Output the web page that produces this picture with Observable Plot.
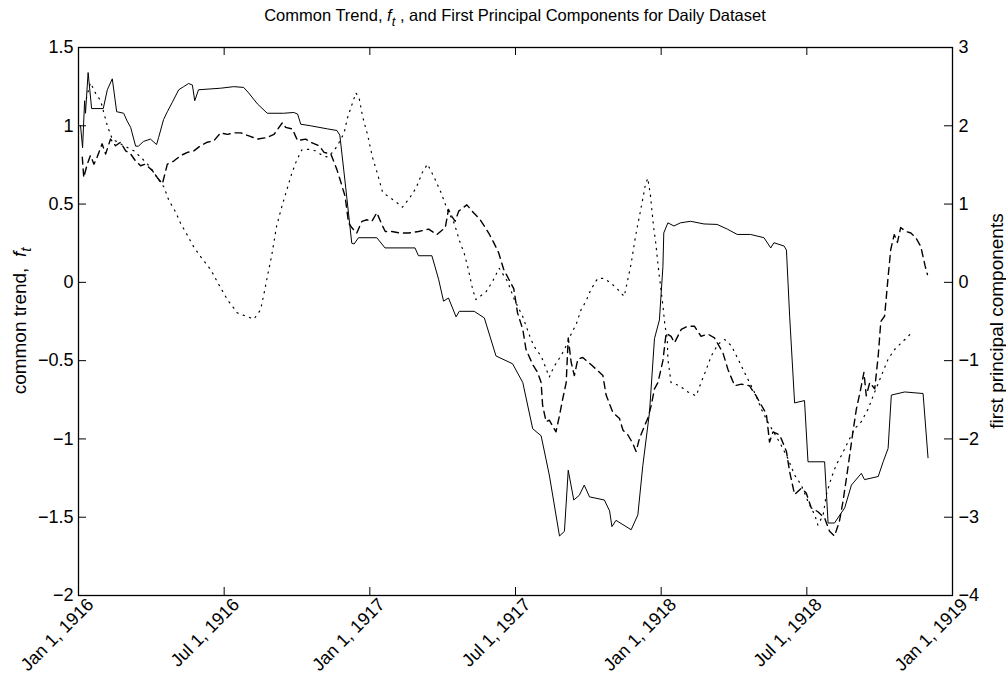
<!DOCTYPE html>
<html><head><meta charset="utf-8">
<script src="https://cdn.jsdelivr.net/npm/d3@7"></script>
<script src="https://cdn.jsdelivr.net/npm/@observablehq/plot@0.6"></script>
<style>body{margin:0;background:#fff} svg{display:block}</style>
</head><body><div id="chart"></div>
<script>
const leftDomain = [-2, 1.5];
const rightDomain = [-4, 3];
const xTicks = [1916, 1916.5, 1917, 1917.5, 1918, 1918.5, 1919];
const xTickLabels = ["Jan 1, 1916","Jul 1, 1916","Jan 1, 1917","Jul 1, 1917","Jan 1, 1918","Jul 1, 1918","Jan 1, 1919"];
const leftTicks = [-2, -1.5, -1, -0.5, 0, 0.5, 1, 1.5];
const leftTickLabels = ["\u22122","\u22121.5","\u22121","\u22120.5","0","0.5","1","1.5"];
const rightTicks = [-4, -3, -2, -1, 0, 1, 2, 3];
const rightTickLabels = ["\u22124","\u22123","\u22122","\u22121","0","1","2","3"];

// common trend f_t (left axis), solid
const solidT = [1916.007,1916.014,1916.021,1916.024,1916.033,1916.045,1916.085,1916.099,1916.116,1916.131,
1916.155,1916.167,1916.179,1916.196,1916.206,1916.223,1916.247,1916.268,1916.275,1916.292,
1916.305,1916.322,1916.344,1916.361,1916.378,1916.391,1916.399,1916.412,1916.488,1916.533,
1916.567,1916.584,1916.614,1916.648,1916.704,1916.739,1916.752,1916.763,1916.797,1916.855,
1916.887,1916.897,1916.914,1916.938,1916.946,1916.961,1917.024,1917.052,1917.155,1917.167,
1917.213,1917.236,1917.253,1917.270,1917.296,1917.307,1917.358,1917.393,1917.433,1917.490,
1917.525,1917.559,1917.588,1917.616,1917.651,1917.668,1917.681,1917.700,1917.719,1917.736,
1917.754,1917.805,1917.823,1917.831,1917.845,1917.897,1917.920,1917.937,1917.960,1917.977,
1917.994,1918.006,1918.009,1918.023,1918.044,1918.066,1918.101,1918.147,1918.192,1918.227,
1918.261,1918.307,1918.353,1918.376,1918.387,1918.422,1918.430,1918.441,1918.458,1918.492,
1918.504,1918.561,1918.573,1918.595,1918.630,1918.653,1918.687,1918.698,1918.745,1918.762,
1918.779,1918.790,1918.836,1918.899,1918.916];
const solidV = [1.0,0.86,1.16,1.08,1.34,1.11,1.11,1.23,1.30,1.09,
1.08,1.03,0.99,0.87,0.87,0.90,0.915,0.88,0.925,1.04,
1.09,1.15,1.23,1.25,1.27,1.26,1.16,1.23,1.24,1.25,
1.245,1.21,1.14,1.08,1.08,1.085,1.075,1.01,1.0,0.98,
0.97,0.94,0.66,0.25,0.245,0.285,0.285,0.22,0.22,0.17,
0.17,0.02,-0.12,-0.10,-0.22,-0.185,-0.185,-0.227,-0.47,-0.52,
-0.64,-0.935,-0.98,-1.23,-1.62,-1.59,-1.20,-1.39,-1.36,-1.295,
-1.37,-1.39,-1.46,-1.56,-1.52,-1.58,-1.485,-1.17,-0.83,-0.36,
-0.24,0.10,0.316,0.38,0.36,0.38,0.39,0.373,0.37,0.34,
0.306,0.306,0.285,0.22,0.253,0.232,0.206,-0.216,-0.77,-0.755,
-1.146,-1.146,-1.537,-1.537,-1.44,-1.295,-1.22,-1.26,-1.24,-1.146,
-1.06,-0.72,-0.70,-0.71,-1.12];

// first principal component A (right axis), dashed
const dashedT = [1916.013,1916.018,1916.030,1916.041,1916.053,1916.064,1916.081,1916.093,1916.110,1916.127,
1916.144,1916.162,1916.179,1916.196,1916.213,1916.230,1916.253,1916.270,1916.288,1916.305,
1916.327,1916.351,1916.374,1916.396,1916.419,1916.442,1916.465,1916.488,1916.511,1916.534,
1916.557,1916.585,1916.614,1916.648,1916.671,1916.700,1916.711,1916.734,1916.752,1916.780,
1916.797,1916.826,1916.843,1916.866,1916.887,1916.898,1916.915,1916.927,1916.938,1916.955,
1916.973,1916.990,1917.007,1917.024,1917.041,1917.053,1917.076,1917.104,1917.133,1917.167,
1917.202,1917.230,1917.259,1917.270,1917.282,1917.293,1917.305,1917.333,1917.356,1917.379,
1917.408,1917.425,1917.442,1917.459,1917.477,1917.494,1917.507,1917.525,1917.536,1917.559,
1917.576,1917.588,1917.593,1917.605,1917.616,1917.639,1917.651,1917.662,1917.674,1917.681,
1917.691,1917.702,1917.714,1917.731,1917.759,1917.777,1917.800,1917.811,1917.834,1917.857,
1917.869,1917.886,1917.903,1917.914,1917.925,1917.943,1917.954,1917.966,1917.977,1917.989,
1918.006,1918.017,1918.034,1918.046,1918.069,1918.092,1918.114,1918.137,1918.160,1918.183,
1918.212,1918.229,1918.252,1918.275,1918.303,1918.326,1918.344,1918.361,1918.372,1918.384,
1918.407,1918.430,1918.441,1918.458,1918.481,1918.498,1918.515,1918.538,1918.561,1918.578,
1918.595,1918.612,1918.624,1918.636,1918.647,1918.659,1918.670,1918.685,1918.696,1918.704,
1918.716,1918.733,1918.745,1918.754,1918.767,1918.779,1918.788,1918.800,1918.811,1918.822,
1918.840,1918.857,1918.874,1918.891,1918.906,1918.914];
const dashedV = [1.6,1.34,1.51,1.62,1.51,1.6,1.77,1.64,1.83,1.745,
1.79,1.68,1.64,1.55,1.49,1.51,1.43,1.34,1.26,1.51,
1.55,1.62,1.66,1.68,1.745,1.79,1.81,1.91,1.89,1.91,
1.91,1.87,1.83,1.85,1.89,2.04,1.98,1.96,1.81,1.83,
1.79,1.745,1.66,1.64,1.44,1.31,1.10,0.76,0.70,0.63,
0.78,0.80,0.78,0.89,0.74,0.65,0.65,0.63,0.63,0.65,
0.68,0.61,0.70,0.93,0.84,0.78,0.91,0.99,0.89,0.80,
0.63,0.51,0.38,0.17,0.04,-0.08,-0.39,-0.60,-0.855,-1.05,
-1.15,-1.28,-1.57,-1.78,-1.76,-1.91,-1.70,-1.49,-1.28,-0.71,
-1.02,-1.19,-0.98,-0.96,-1.05,-1.11,-1.19,-1.44,-1.66,-1.74,
-1.89,-1.95,-2.06,-2.16,-2.0,-1.83,-1.74,-1.57,-1.36,-1.28,
-1.0,-0.65,-0.69,-0.77,-0.60,-0.56,-0.56,-0.69,-0.66,-0.71,
-0.90,-1.11,-1.32,-1.30,-1.32,-1.45,-1.57,-1.68,-2.04,-1.91,
-1.95,-2.16,-2.42,-2.71,-2.63,-2.69,-2.88,-2.93,-3.01,-3.18,
-3.24,-3.05,-2.80,-2.50,-2.21,-1.89,-1.62,-1.36,-1.15,-1.45,
-1.28,-1.36,-0.94,-0.5,-0.43,0.07,0.42,0.61,0.51,0.70,
0.65,0.63,0.57,0.46,0.21,0.10];

// first principal component B (right axis), dotted
const dottedT = [1916.027,1916.041,1916.058,1916.076,1916.099,1916.116,1916.156,1916.190,1916.219,1916.247,
1916.270,1916.293,1916.310,1916.333,1916.351,1916.374,1916.396,1916.419,1916.454,1916.482,
1916.511,1916.545,1916.574,1916.602,1916.625,1916.637,1916.648,1916.663,1916.680,1916.698,
1916.715,1916.732,1916.749,1916.766,1916.791,1916.814,1916.837,1916.855,1916.877,1916.895,
1916.912,1916.923,1916.935,1916.952,1916.963,1916.975,1916.992,1917.009,1917.026,1917.044,
1917.066,1917.089,1917.112,1917.135,1917.158,1917.181,1917.198,1917.221,1917.244,1917.267,
1917.290,1917.307,1917.324,1917.336,1917.353,1917.364,1917.399,1917.421,1917.444,1917.473,
1917.496,1917.524,1917.553,1917.570,1917.588,1917.616,1917.633,1917.656,1917.674,1917.691,
1917.708,1917.725,1917.742,1917.759,1917.782,1917.804,1917.828,1917.851,1917.873,1917.883,
1917.897,1917.912,1917.923,1917.935,1917.946,1917.954,1917.963,1917.969,1917.975,1917.980,
1917.986,1917.992,1918.000,1918.006,1918.013,1918.021,1918.023,1918.034,1918.063,1918.092,
1918.120,1918.137,1918.155,1918.172,1918.195,1918.218,1918.241,1918.264,1918.286,1918.309,
1918.326,1918.344,1918.367,1918.389,1918.412,1918.435,1918.458,1918.481,1918.504,1918.527,
1918.538,1918.556,1918.567,1918.584,1918.601,1918.619,1918.641,1918.664,1918.687,1918.710,
1918.733,1918.756,1918.779,1918.802,1918.825,1918.848,1918.865];
const dottedV = [2.35,2.55,2.42,2.32,2.0,1.83,1.745,1.68,1.58,1.47,
1.34,1.22,1.05,0.90,0.75,0.60,0.45,0.33,0.16,-0.03,
-0.22,-0.39,-0.43,-0.47,-0.35,-0.14,0.07,0.34,0.72,0.97,
1.18,1.39,1.56,1.69,1.70,1.68,1.62,1.60,1.68,1.79,
1.91,2.10,2.23,2.42,2.36,2.12,1.89,1.60,1.39,1.15,
1.09,1.03,0.96,1.07,1.20,1.41,1.51,1.34,1.15,0.92,
0.75,0.54,0.37,0.20,-0.09,-0.22,-0.12,0.01,0.18,0.01,
-0.22,-0.43,-0.73,-0.855,-0.94,-1.21,-1.07,-0.94,-0.81,-0.66,
-0.54,-0.35,-0.24,-0.09,0.05,0.05,-0.01,-0.09,-0.18,-0.01,
0.24,0.59,0.80,1.03,1.25,1.33,1.12,0.89,0.68,0.55,
0.34,0.13,-0.11,-0.30,-0.55,-0.72,-0.98,-1.28,-1.32,-1.40,
-1.45,-1.28,-1.11,-0.94,-0.79,-0.73,-0.81,-0.98,-1.15,-1.32,
-1.45,-1.62,-1.79,-1.93,-2.08,-2.25,-2.46,-2.59,-2.80,-2.97,
-3.10,-2.97,-2.71,-2.50,-2.33,-2.21,-2.04,-1.87,-1.78,-1.62,
-1.40,-1.19,-0.98,-0.855,-0.77,-0.69,-0.62];

// map right-axis values onto the left-axis scale
const toLeft = d3.scaleLinear().domain(rightDomain).range(leftDomain);
const rows = (T, V, right) => T.map((t, i) => ({t, v: right ? toLeft(V[i]) : V[i]}));
const rightTicksL = rightTicks.map(toLeft);

const W = 1006, H = 683, mL = 78, mR = 54, mT = 47, mB = 88;
const fw = W - mL - mR, fh = H - mT - mB, tl = 8;
const FONT = "'Liberation Sans', Arial, Helvetica, sans-serif";

const svg = Plot.plot({
  width: W, height: H,
  marginLeft: mL, marginRight: mR, marginTop: mT, marginBottom: mB,
  x: {domain: [1916, 1919]},
  y: {domain: leftDomain},
  style: {fontFamily: FONT, fontSize: "18px", background: "white", color: "black"},
  marks: [
    Plot.line(rows(dottedT, dottedV, true), {x: "t", y: "v", stroke: "black", strokeWidth: 1.2, strokeDasharray: "1.2,5.5"}),
    Plot.line(rows(dashedT, dashedV, true), {x: "t", y: "v", stroke: "black", strokeWidth: 1.4, strokeDasharray: "7,5"}),
    Plot.line(rows(solidT, solidV, false), {x: "t", y: "v", stroke: "black", strokeWidth: 1}),
    Plot.tickX(xTicks, {x: d => d, insetTop: fh - tl, stroke: "black"}),
    Plot.tickX(xTicks, {x: d => d, insetBottom: fh - tl, stroke: "black"}),
    Plot.tickY(leftTicks, {y: d => d, insetRight: fw - tl, stroke: "black"}),
    Plot.tickY(rightTicksL, {y: d => d, insetLeft: fw - tl, stroke: "black"}),
    Plot.frame({stroke: "black", strokeWidth: 1.3}),
    Plot.axisX(xTicks, {
      tickFormat: d => xTickLabels[xTicks.indexOf(d)],
      tickRotate: -45, tickSize: 0, tickPadding: 6, dx: 12, fontSize: 18, label: null
    }),
    Plot.axisY(leftTicks, {
      anchor: "left", tickFormat: d => leftTickLabels[leftTicks.indexOf(d)],
      tickSize: 0, tickPadding: 5, fontSize: 18, label: null
    }),
    Plot.axisY(rightTicksL, {
      anchor: "right",
      tickFormat: d => rightTickLabels[rightTicksL.findIndex(r => Math.abs(r - d) < 1e-9)],
      tickSize: 0, tickPadding: 6, fontSize: 18, label: null
    })
  ]
});

const s = d3.select(svg);
// title
const title = s.append("text")
  .attr("x", mL + fw / 2).attr("y", 21)
  .attr("text-anchor", "middle").attr("font-size", 16.5).attr("font-family", FONT).attr("fill", "black");
title.append("tspan").text("Common Trend, ");
title.append("tspan").attr("font-style", "italic").text("f");
title.append("tspan").attr("font-style", "italic").attr("font-size", 13).attr("dy", 5).text("t");
title.append("tspan").attr("dy", -5).text(" , and First Principal Components for Daily Dataset");

// left y label
const yl = s.append("text")
  .attr("transform", `translate(26,${mT + fh / 2}) rotate(-90)`)
  .attr("text-anchor", "middle").attr("font-size", 19).attr("font-family", FONT).attr("fill", "black");
yl.append("tspan").text("common trend,\u00a0\u00a0");
yl.append("tspan").attr("font-style", "italic").text("f");
yl.append("tspan").attr("font-style", "italic").attr("font-size", 15).attr("dy", 5).text("t");

// right y label
s.append("text")
  .attr("transform", `translate(1003,${mT + fh / 2}) rotate(-90)`)
  .attr("text-anchor", "middle").attr("font-size", 19).attr("font-family", FONT).attr("fill", "black")
  .text("first principal components");

document.getElementById("chart").appendChild(svg);
</script>
</body></html>
